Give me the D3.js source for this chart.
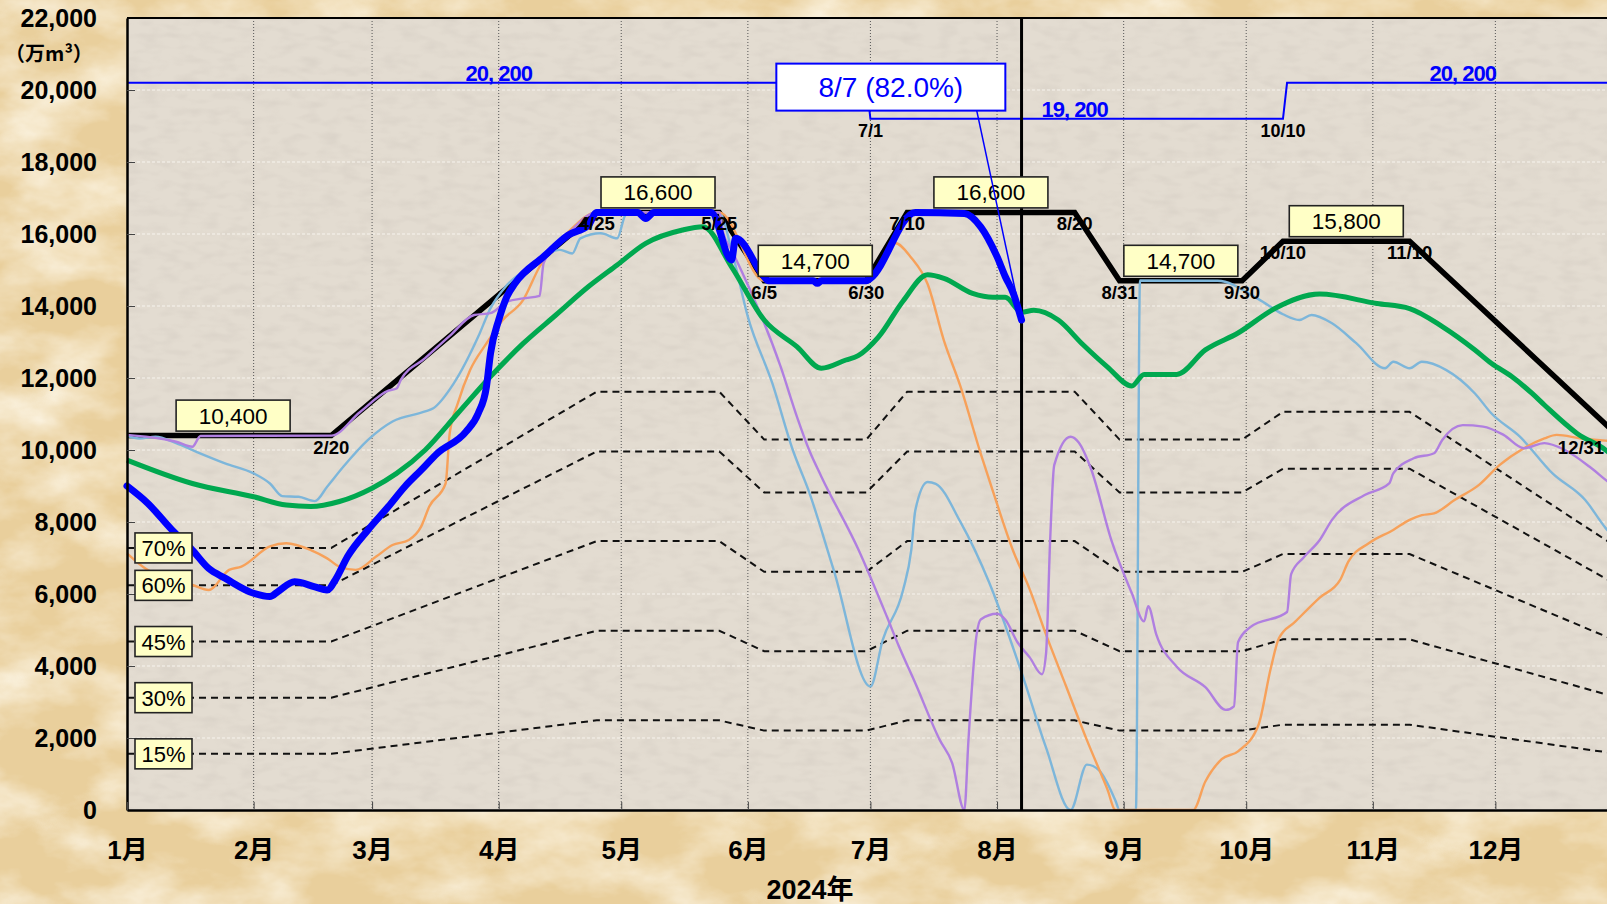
<!DOCTYPE html>
<html>
<head>
<meta charset="utf-8">
<script src="https://cdn.jsdelivr.net/npm/d3@7"></script>
<style>
  html, body { margin: 0; padding: 0; background: #edd6a8; overflow: hidden; }
  svg { display: block; }
  text { font-family: "Liberation Sans", "Noto Sans CJK JP", sans-serif; }
</style>
</head>
<body>
<svg id="chart"></svg>
<script>
// 貯水量データ（万m3）  日付は 2024年の "月/日"
const yTicks = [0, 2000, 4000, 6000, 8000, 10000, 12000, 14000, 16000, 18000, 20000, 22000];
const monthLabels = ["1月", "2月", "3月", "4月", "5月", "6月", "7月", "8月", "9月", "10月", "11月", "12月"];

// 運用ルール（黒線）
const ruleDates = ["1/1", "2/20", "4/25", "5/25", "6/5", "6/30", "7/10", "8/20", "8/31", "9/30", "10/10", "11/10", "12/31"];
const ruleValues = [10400, 10400, 16600, 16600, 14700, 14700, 16600, 16600, 14700, 14700, 15800, 15800, 10400];

// 点線（ルールの 70% 60% 45% 30% 15%）
const pctNames = ["70%", "60%", "45%", "30%", "15%"];
const pct70 = [7280, 7280, 11620, 11620, 10290, 10290, 11620, 11620, 10290, 10290, 11060, 11060, 7280];
const pct60 = [6240, 6240, 9960, 9960, 8820, 8820, 9960, 9960, 8820, 8820, 9480, 9480, 6240];
const pct45 = [4680, 4680, 7470, 7470, 6615, 6615, 7470, 7470, 6615, 6615, 7110, 7110, 4680];
const pct30 = [3120, 3120, 4980, 4980, 4410, 4410, 4980, 4980, 4410, 4410, 4740, 4740, 3120];
const pct15 = [1560, 1560, 2490, 2490, 2205, 2205, 2490, 2490, 2205, 2205, 2370, 2370, 1560];

// ルール上の数値ボックス（平坦区間の始点インデックス）
const boxStart = [0, 2, 4, 6, 8, 10];
const boxValues = [10400, 16600, 14700, 16600, 14700, 15800];

// 容量線（青細線）
const capacity = [["1/1", 20200], ["6/30", 20200], ["7/1", 19200], ["10/10", 19200], ["10/11", 20200], ["12/31", 20200]];
const capLabels = ["20, 200", "19, 200", "20, 200"];
const capLabelValues = [20200, 19200, 20200];
const capLabelDates = ["4/1", "8/20", "11/23"];
const capStepDates = ["7/1", "10/10"];

// 2024年 実績（青太線）
const year2024 = [["1/1",9000],["1/6",8530],["1/12",7780],["1/17",7220],["1/21",6710],["1/25",6440],["2/1",6020],["2/5",5930],["2/7",6070],["2/11",6340],["2/16",6200],["2/19",6110],["2/21",6390],["2/24",7040],["2/29",7780],["3/5",8430],["3/9",8980],["3/13",9440],["3/17",9910],["3/24",10510],["3/27",11020],["3/29",11760],["3/30",12690],["4/1",13610],["4/3",14260],["4/5",14630],["4/12",15370],["4/18",15970],["4/23",16250],["4/25",16600],["5/5",16600],["5/7",16430],["5/9",16600],["5/23",16600],["5/28",15280],["5/29",15880],["6/5",14810],["6/6",14700],["6/17",14700],["6/18",14630],["6/19",14700],["6/30",14700],["7/1",14770],["7/12",16600],["7/24",16570],["7/28",16200],["8/1",15370],["8/3",14820],["8/5",14350],["8/7",13610]];

// 平均（緑線）
const average = [["1/1",9720],["1/17",9070],["2/1",8700],["2/9",8470],["2/15",8430],["2/22",8570],["3/1",8940],["3/7",9350],["3/14",10000],["3/22",11020],["3/30",12040],["4/7",12960],["4/15",13750],["4/23",14540],["4/30",15140],["5/7",15740],["5/16",16110],["5/21",16200],["5/28",15090],["6/5",13610],["6/13",12870],["6/19",12270],["6/25",12500],["6/28",12620],["7/3",13140],["7/9",14140],["7/15",14870],["7/19",14770],["7/26",14350],["7/31",14240],["8/3",14240],["8/7",13830],["8/10",13880],["8/16",13610],["8/22",12930],["8/28",12310],["9/3",11780],["9/6",12100],["9/14",12100],["9/21",12780],["9/29",13250],["10/8",13930],["10/19",14330],["11/2",14070],["11/10",13930],["11/18",13430],["11/26",12780],["11/30",12410],["12/5",12040],["12/10",11570],["12/13",11250],["12/21",10460],["12/28",10000],["12/31",9720]];

// 渇水年（細線）
const pastBlue = [["1/1",10390],["1/4",10320],["1/8",10370],["1/13",10190],["1/18",9950],["1/25",9630],["2/1",9350],["2/5",9070],["2/8",8720],["2/12",8700],["2/16",8580],["2/19",8980],["2/23",9540],["2/29",10280],["3/6",10790],["3/14",11070],["3/16",11160],["3/21",11850],["3/27",13150],["3/30",13940],["4/3",14580],["4/9",15100],["4/16",15560],["4/19",15460],["4/21",15880],["4/26",16020],["4/30",15880],["5/2",16530],["5/3",16600],["5/25",16600],["5/28",15560],["6/1",13700],["6/7",11850],["6/12",10000],["6/16",8830],["6/22",6670],["7/1",3430],["7/4",4720],["7/9",6110],["7/11",7220],["7/12",8330],["7/15",9110],["7/17",9060],["7/23",8010],["7/30",6340],["8/7",3820],["8/13",1730],["8/19",0],["8/23",1260],["8/26",1100],["8/30",260],["8/31",0],["9/4",0],["9/5",14710],["9/24",14700],["10/4",14190],["10/10",13770],["10/14",13610],["10/17",13750],["10/22",13520],["10/28",12960],["11/4",12270],["11/6",12450],["11/10",12270],["11/13",12450],["11/19",12220],["11/26",11570],["11/30",11020],["12/7",10370],["12/15",9350],["12/23",8610],["12/28",7830],["12/31",7450]];

const pastOrange = [["1/1",7130],["1/6",6670],["1/12",6390],["1/17",6250],["1/21",6110],["1/26",6670],["1/29",6760],["2/5",7320],["2/9",7410],["2/15",7220],["2/19",6990],["2/22",6760],["2/26",6670],["3/2",7040],["3/6",7360],["3/10",7500],["3/13",7870],["3/15",8430],["3/19",9070],["3/20",10460],["3/22",11300],["3/25",12220],["3/29",12960],["4/2",13610],["4/7",14170],["4/11",15090],["4/18",16050],["4/25",16600],["5/25",16600],["6/5",14700],["6/30",14700],["7/7",15750],["7/11",15340],["7/15",14610],["7/19",13040],["7/23",11780],["7/28",9900],["7/31",8850],["8/5",7180],["8/9",6130],["8/13",4870],["8/18",3410],["8/23",1940],["8/28",580],["8/30",0],["9/18",0],["9/21",790],["9/25",1410],["9/29",1630],["10/4",2360],["10/7",3930],["10/9",4770],["10/13",5230],["10/19",5900],["10/24",6390],["10/26",6900],["10/31",7410],["11/6",7780],["11/10",8060],["11/13",8190],["11/16",8240],["11/21",8610],["11/27",9030],["12/2",9580],["12/8",10050],["12/13",10320],["12/16",10420],["12/22",10320],["12/28",10260],["12/31",10250]];

const pastPurple = [["1/1",10420],["1/9",10320],["1/13",10230],["1/17",10090],["1/19",10390],["2/20",10400],["2/27",11050],["3/5",11650],["3/7",11710],["3/8",11940],["3/14",12550],["3/20",13170],["3/26",13750],["3/30",13800],["4/3",14120],["4/7",14210],["4/11",14280],["4/12",15190],["4/18",16000],["4/25",16600],["5/25",16600],["5/26",16020],["5/28",15560],["6/9",12320],["6/13",10930],["6/16",10000],["6/19",9260],["6/28",7250],["7/5",5380],["7/8",4540],["7/12",3520],["7/18",1940],["7/21",1310],["7/24",0],["7/25",1940],["7/27",4870],["7/28",5290],["8/1",5450],["8/3",5290],["8/6",4660],["8/9",4240],["8/12",3770],["8/13",4350],["8/14",7490],["8/15",9580],["8/19",10370],["8/21",10210],["8/24",9480],["8/29",7490],["9/3",6020],["9/6",5240],["9/7",5660],["9/9",4870],["9/14",3980],["9/21",3410],["9/26",2780],["9/28",2880],["9/29",4660],["10/2",5080],["10/11",5500],["10/12",6550],["10/15",7010],["10/19",7500],["10/22",8060],["10/30",8750],["11/5",9070],["11/6",9350],["11/11",9770],["11/16",9910],["11/18",10280],["11/23",10690],["11/28",10650],["12/3",10420],["12/8",10050],["12/13",10190],["12/18",10000],["12/24",9540],["12/28",9170],["12/31",8900]];

// 現在値
const today = "8/7";
const todayValue = 13610;
const todayRate = 82.0;

const W = 1607, H = 904;
const plotLeft = 127, plotTop = 18, plotBottom = 810;

const md = s => { const [m, d] = s.split("/").map(Number); return new Date(2024, m - 1, d); };

const x = d3.scaleTime()
    .domain([new Date(2024, 0, 1), new Date(2025, 0, 1)])
    .range([plotLeft, 1622]);
const y = d3.scaleLinear()
    .domain([0, 22000])
    .range([plotBottom, plotTop]);

const svg = d3.select("#chart").attr("width", W).attr("height", H);

// 背景（紙の質感）
const defs = svg.append("defs");
const paper = defs.append("filter").attr("id", "paper")
    .attr("x", 0).attr("y", 0).attr("width", "100%").attr("height", "100%");
paper.append("feTurbulence").attr("type", "fractalNoise")
    .attr("baseFrequency", "0.01 0.018").attr("numOctaves", 5).attr("seed", 7);
paper.append("feColorMatrix").attr("type", "matrix")
    .attr("values", "0 0 0 0 1  0 0 0 0 0.96  0 0 0 0 0.86  1.8 0 0 0 -0.7");
const grain = defs.append("filter").attr("id", "grain")
    .attr("x", 0).attr("y", 0).attr("width", "100%").attr("height", "100%");
grain.append("feTurbulence").attr("type", "fractalNoise")
    .attr("baseFrequency", "0.05 0.12").attr("numOctaves", 2).attr("seed", 3);
grain.append("feColorMatrix").attr("type", "matrix")
    .attr("values", "0 0 0 0 0.55  0 0 0 0 0.5  0 0 0 0 0.45  -1.6 0 0 0 0.9");

svg.append("rect").attr("width", W).attr("height", H).attr("fill", "#e9cf9c");
svg.append("rect").attr("width", W).attr("height", H).attr("filter", "url(#paper)");

svg.append("rect")
    .attr("x", plotLeft).attr("y", plotTop)
    .attr("width", W - plotLeft).attr("height", plotBottom - plotTop)
    .attr("fill", "#e3dcd1");
svg.append("rect")
    .attr("x", plotLeft).attr("y", plotTop)
    .attr("width", W - plotLeft).attr("height", plotBottom - plotTop)
    .attr("filter", "url(#grain)").attr("opacity", 0.35);

// 横グリッド（白破線）
svg.append("g").selectAll("line")
    .data(yTicks.filter(v => v > 0 && v < 22000))
    .enter().append("line")
    .attr("x1", plotLeft).attr("x2", W)
    .attr("y1", d => y(d)).attr("y2", d => y(d))
    .attr("stroke", "#f7f4ee").attr("stroke-width", 1)
    .attr("stroke-dasharray", "3,2");

// 縦グリッド（月初 点線）
const monthDates = d3.range(12).map(i => new Date(2024, i, 1));
svg.append("g").selectAll("line")
    .data(monthDates.slice(1))
    .enter().append("line")
    .attr("x1", d => x(d)).attr("x2", d => x(d))
    .attr("y1", plotTop).attr("y2", plotBottom)
    .attr("stroke", "#555").attr("stroke-width", 1)
    .attr("stroke-dasharray", "1,2");

const ruleRows = ruleDates.map((d, i) => [d, ruleValues[i]]);
const straight = d3.line().x(d => x(md(d[0]))).y(d => y(d[1]));
const smooth = d3.line().x(d => x(md(d[0]))).y(d => y(d[1])).curve(d3.curveMonotoneX);

// 点線
[pct70, pct60, pct45, pct30, pct15].forEach(vals => {
    svg.append("path")
        .datum(ruleDates.map((d, i) => [d, vals[i]]))
        .attr("d", straight)
        .attr("fill", "none")
        .attr("stroke", "#111").attr("stroke-width", 2)
        .attr("stroke-dasharray", "7,5");
});

// 容量線
svg.append("path")
    .datum(capacity)
    .attr("d", straight)
    .attr("fill", "none").attr("stroke", "#0000ff").attr("stroke-width", 2);

// ルール線
svg.append("path")
    .datum(ruleRows)
    .attr("d", straight)
    .attr("fill", "none").attr("stroke", "#000").attr("stroke-width", 5.5)
    .attr("stroke-linejoin", "miter");

// 渇水年
const thin = [[pastBlue, "#7db6da"], [pastOrange, "#f7a15a"], [pastPurple, "#b07fe0"]];
thin.forEach(([rows, color]) => {
    svg.append("path")
        .datum(rows)
        .attr("d", smooth)
        .attr("fill", "none").attr("stroke", color).attr("stroke-width", 2.4)
        .attr("stroke-linejoin", "round");
});

// 平均
svg.append("path")
    .datum(average)
    .attr("d", smooth)
    .attr("fill", "none").attr("stroke", "#00a84f").attr("stroke-width", 5)
    .attr("stroke-linejoin", "round");

// 現在日の縦線
svg.append("line")
    .attr("x1", x(md(today))).attr("x2", x(md(today)))
    .attr("y1", plotTop).attr("y2", plotBottom)
    .attr("stroke", "#000").attr("stroke-width", 3);

// 2024年
svg.append("path")
    .datum(year2024)
    .attr("d", smooth)
    .attr("fill", "none").attr("stroke", "#0000ff").attr("stroke-width", 7)
    .attr("stroke-linejoin", "round").attr("stroke-linecap", "round");

// 軸
const yAxis = svg.append("g")
    .attr("transform", `translate(${plotLeft},0)`)
    .call(d3.axisLeft(y).tickValues(yTicks).tickFormat(d3.format(","))
        .tickSize(-8).tickSizeOuter(0).tickPadding(30));
yAxis.select(".domain").attr("stroke", "#000").attr("stroke-width", 2.5);
yAxis.selectAll(".tick line").attr("stroke", "#444");
yAxis.selectAll("text").attr("font-size", 25).attr("font-weight", "bold").attr("fill", "#000")
    .style("font-family", "'Liberation Sans', sans-serif");

const xAxis = svg.append("g")
    .attr("transform", `translate(0,${plotBottom})`)
    .call(d3.axisBottom(x).tickValues(monthDates).tickFormat((d, i) => monthLabels[i])
        .tickSize(-8).tickSizeOuter(0).tickPadding(31));
xAxis.select(".domain").attr("stroke", "#000").attr("stroke-width", 2.5);
xAxis.selectAll(".tick line").attr("stroke", "#444");
xAxis.selectAll("text").attr("font-size", 26).attr("font-weight", "bold").attr("fill", "#000");

svg.append("line")
    .attr("x1", plotLeft).attr("x2", W).attr("y1", plotTop).attr("y2", plotTop)
    .attr("stroke", "#000").attr("stroke-width", 2);

svg.append("text")
    .attr("x", 810).attr("y", 899)
    .attr("text-anchor", "middle")
    .attr("font-size", 27).attr("font-weight", "bold")
    .text("2024年");

svg.append("text")
    .attr("x", 49).attr("y", 61)
    .attr("text-anchor", "middle")
    .attr("font-size", 20).attr("font-weight", "bold")
    .style("font-family", "'Noto Sans CJK JP', sans-serif")
    .text("（万m³）");

// 容量ラベル
capLabels.forEach((t, i) => {
    svg.append("text")
        .attr("x", x(md(capLabelDates[i])))
        .attr("y", y(capLabelValues[i]) - 2)
        .attr("text-anchor", "middle")
        .attr("font-size", 22).attr("font-weight", "bold")
        .attr("letter-spacing", -1)
        .attr("fill", "#0000ff")
        .text(t);
});
capStepDates.forEach(d => {
    svg.append("text")
        .attr("x", x(md(d))).attr("y", y(19200) + 18)
        .attr("text-anchor", "middle")
        .attr("font-size", 18).attr("font-weight", "bold")
        .text(d);
});

// ルール日付ラベル（右端は画面内に寄せる）
ruleRows.slice(1).forEach(([d, v]) => {
    svg.append("text")
        .attr("x", Math.min(x(md(d)), W - 26)).attr("y", y(v) + 18)
        .attr("text-anchor", "middle")
        .attr("font-size", 18.5).attr("font-weight", "bold")
        .text(d);
});

// 数値ボックス
boxStart.forEach((s, i) => {
    const cx = (x(md(ruleDates[s])) + x(md(ruleDates[s + 1]))) / 2 + (s === 0 ? 4 : 0);
    const yy = y(boxValues[i]);
    const g = svg.append("g");
    g.append("rect")
        .attr("x", cx - 57).attr("y", yy - 35.5)
        .attr("width", 114).attr("height", 31)
        .attr("fill", "#ffffc6").attr("stroke", "#222").attr("stroke-width", 1.6);
    g.append("text")
        .attr("x", cx).attr("y", yy - 12)
        .attr("text-anchor", "middle")
        .attr("font-size", 22.5)
        .text(d3.format(",")(boxValues[i]));
});

// パーセントボックス
[pct70, pct60, pct45, pct30, pct15].forEach((vals, i) => {
    const yy = y(vals[0]);
    svg.append("rect")
        .attr("x", 135).attr("y", yy - 15)
        .attr("width", 57).attr("height", 30)
        .attr("fill", "#ffffc6").attr("stroke", "#222").attr("stroke-width", 1.6);
    svg.append("text")
        .attr("x", 163.5).attr("y", yy + 8)
        .attr("text-anchor", "middle")
        .attr("font-size", 22)
        .text(pctNames[i]);
});

// 現在値の吹き出し
const bx = x(md("7/6")), by = y(20080);
svg.append("line")
    .attr("x1", x(md("7/27"))).attr("y1", by + 23)
    .attr("x2", x(md(today))).attr("y2", y(todayValue))
    .attr("stroke", "#0000ff").attr("stroke-width", 1.5);
svg.append("rect")
    .attr("x", bx - 114.5).attr("y", by - 23.5)
    .attr("width", 229).attr("height", 47)
    .attr("fill", "#fff").attr("stroke", "#0000ff").attr("stroke-width", 2);
svg.append("text")
    .attr("x", bx).attr("y", by + 10)
    .attr("text-anchor", "middle")
    .attr("font-size", 28)
    .attr("fill", "#0000ff")
    .text(`${today} (${todayRate.toFixed(1)}%)`);
</script>
</body>
</html>
